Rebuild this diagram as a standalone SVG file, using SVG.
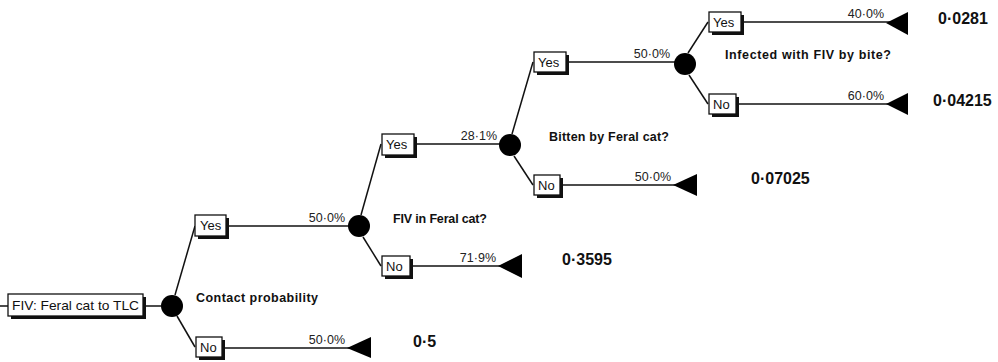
<svg xmlns="http://www.w3.org/2000/svg" width="998" height="362" viewBox="0 0 998 362">
<style>
.ln{stroke:#111;stroke-width:1.5;fill:none}
.bx{fill:#fff;stroke:#111;stroke-width:1.3}
.sh{fill:#111}
.ch{fill:#000}
.tri{fill:#000}
.t{font-family:"Liberation Sans",Arial,sans-serif;font-size:13px;fill:#111}
.p{font-family:"Liberation Sans",Arial,sans-serif;font-size:12.5px;fill:#222;text-anchor:end}
.q{font-family:"Liberation Sans",Arial,sans-serif;font-size:12.5px;font-weight:bold;fill:#111}
.v{font-family:"Liberation Sans",Arial,sans-serif;font-size:16px;font-weight:bold;fill:#111}
</style>
<rect width="998" height="362" fill="#fff"/>
<g id="connectors">
<line class="ln" x1="0" y1="306" x2="8" y2="306"/>
<line class="ln" x1="143" y1="306" x2="161" y2="306"/>
<line class="ln" x1="175" y1="295" x2="195" y2="226"/>
<line class="ln" x1="228" y1="226" x2="349" y2="226"/>
<line class="ln" x1="177" y1="316" x2="195" y2="347"/>
<line class="ln" x1="222" y1="348" x2="352" y2="348"/>
<line class="ln" x1="361" y1="215" x2="381" y2="144"/>
<line class="ln" x1="414" y1="144" x2="500" y2="144"/>
<line class="ln" x1="363" y1="237" x2="381" y2="266"/>
<line class="ln" x1="410" y1="266" x2="505" y2="266"/>
<line class="ln" x1="512" y1="134" x2="533" y2="62"/>
<line class="ln" x1="566" y1="62" x2="675" y2="62"/>
<line class="ln" x1="514" y1="156" x2="533" y2="185"/>
<line class="ln" x1="560" y1="185" x2="680" y2="185"/>
<line class="ln" x1="688" y1="53" x2="708" y2="22"/>
<line class="ln" x1="741" y1="22" x2="890" y2="22"/>
<line class="ln" x1="689" y1="75" x2="708" y2="104"/>
<line class="ln" x1="736" y1="104" x2="890" y2="104"/>
</g>
<g id="root">
<rect class="sh" x="11" y="297" width="135" height="22"/>
<rect class="bx" x="8" y="294" width="135" height="22"/>
<text class="t" x="12" y="310" textLength="127" lengthAdjust="spacingAndGlyphs">FIV: Feral cat to TLC</text>
</g>
<g id="chance1">
<circle class="ch" cx="172" cy="306" r="11"/>
<text class="q" x="196" y="302" textLength="122">Contact probability</text>
</g>
<g id="yes1">
<rect class="sh" x="198" y="218" width="31" height="21"/>
<rect class="bx" x="195" y="215" width="31" height="21"/>
<text class="t" x="200" y="230">Yes</text>
<text class="p" x="345" y="222">50·0%</text>
</g>
<g id="no1">
<rect class="sh" x="199" y="340" width="26" height="20"/>
<rect class="bx" x="196" y="337" width="26" height="20"/>
<text class="t" x="200" y="352">No</text>
<text class="p" x="345" y="344">50·0%</text>
</g>
<g id="end1">
<polygon class="tri" points="347,348 371,337 371,358"/>
<text class="v" x="413" y="347">0·5</text>
</g>
<g id="chance2">
<circle class="ch" cx="359" cy="226" r="11"/>
<text class="q" x="393" y="223" textLength="94">FIV in Feral cat?</text>
</g>
<g id="yes2">
<rect class="sh" x="385" y="137" width="32" height="21"/>
<rect class="bx" x="382" y="134" width="32" height="21"/>
<text class="t" x="386" y="149">Yes</text>
<text class="p" x="497" y="140">28·1%</text>
</g>
<g id="no2">
<rect class="sh" x="385" y="259" width="28" height="20"/>
<rect class="bx" x="382" y="256" width="28" height="20"/>
<text class="t" x="386" y="271">No</text>
<text class="p" x="496" y="262">71·9%</text>
</g>
<g id="end2">
<polygon class="tri" points="498,266 522,254 522,278"/>
<text class="v" x="562" y="265">0·3595</text>
</g>
<g id="chance3">
<circle class="ch" cx="510" cy="145" r="11"/>
<text class="q" x="549" y="141" textLength="120">Bitten by Feral cat?</text>
</g>
<g id="yes3">
<rect class="sh" x="537" y="55" width="32" height="20"/>
<rect class="bx" x="534" y="52" width="32" height="20"/>
<text class="t" x="538" y="67">Yes</text>
<text class="p" x="670" y="58">50·0%</text>
</g>
<g id="no3">
<rect class="sh" x="537" y="178" width="26" height="20"/>
<rect class="bx" x="534" y="175" width="26" height="20"/>
<text class="t" x="538" y="190">No</text>
<text class="p" x="671" y="181">50·0%</text>
</g>
<g id="end3">
<polygon class="tri" points="673,185 697,174 697,196"/>
<text class="v" x="751" y="184">0·07025</text>
</g>
<g id="chance4">
<circle class="ch" cx="685" cy="64" r="11"/>
<text class="q" x="725" y="59" textLength="166">Infected with FIV by bite?</text>
</g>
<g id="yes4">
<rect class="sh" x="712" y="15" width="32" height="20"/>
<rect class="bx" x="709" y="12" width="32" height="20"/>
<text class="t" x="713" y="27">Yes</text>
<text class="p" x="884" y="18">40·0%</text>
</g>
<g id="end4">
<polygon class="tri" points="886,23 908,12 908,35"/>
<text class="v" x="938" y="24">0·0281</text>
</g>
<g id="no4">
<rect class="sh" x="712" y="97" width="27" height="20"/>
<rect class="bx" x="709" y="94" width="27" height="20"/>
<text class="t" x="713" y="109">No</text>
<text class="p" x="884" y="100">60·0%</text>
</g>
<g id="end5">
<polygon class="tri" points="886,104 908,93 908,115"/>
<text class="v" x="933" y="106">0·04215</text>
</g>
</svg>
